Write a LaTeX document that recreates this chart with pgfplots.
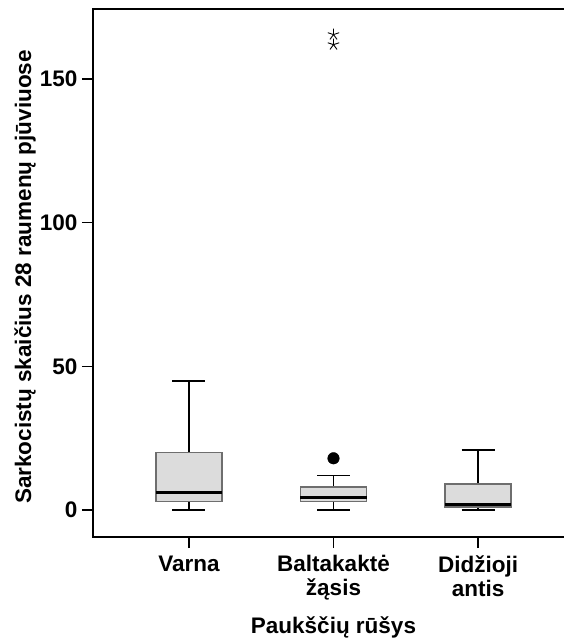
\documentclass[border=0pt]{standalone}
\usepackage{fontspec}
\setmainfont{Liberation Sans}
\usepackage{pgfplots}
\pgfplotsset{compat=1.18}
\usepgfplotslibrary{statistics}
\definecolor{boxfill}{HTML}{DCDCDC}
\definecolor{boxedge}{HTML}{6E6E6E}
\newcommand{\chartfont}{\fontsize{22.5bp}{24bp}\selectfont\bfseries}
\begin{document}
\begin{tikzpicture}[font=\chartfont]
\begin{axis}[name=ax, scale only axis, width=481bp, height=528bp,
  xmin=0.336, xmax=3.664, ymin=-9.4, ymax=174.4,
  xtick={1,2,3},
  xticklabels={Varna,{Baltakaktė\\žąsis},{Didžioji\\antis}},
  xticklabel style={align=center, anchor=north, yshift=-4bp, font=\chartfont},
  ytick={0,50,100,150},
  yticklabels={0,50,100,150},
  yticklabel style={font=\chartfont, xshift=-1bp},
  tick align=outside, tick pos=left, major tick length=11bp,
  tick style={black, line width=1.5bp},
  axis line style={black, line width=1.5bp},
  xlabel={Paukščių rūšys},
  ylabel={Sarkocistų skaičius 28 raumenų pjūviuose},
  xlabel style={at={([yshift=-96bp]axis description cs:0.5,0)}, anchor=base, font=\chartfont},
  ylabel style={at={([xshift=-68bp,yshift=-4bp]axis description cs:0,0.5)}, anchor=center, font=\chartfont},
  boxplot/draw direction=y,
  boxplot/every box/.style={fill=boxfill, draw=boxedge, line width=1.3bp},
  boxplot/every whisker/.style={black, line width=1.8bp},
  boxplot/every median/.style={black, line width=3bp},
]
\addplot[boxplot prepared={lower whisker=0, lower quartile=3, median=6,
  upper quartile=20, upper whisker=45, draw position=1,
  box extend=0.457, whisker extend=0.228}] coordinates {};
\addplot[boxplot prepared={lower whisker=0, lower quartile=3, median=4.5,
  upper quartile=8, upper whisker=12, draw position=2,
  box extend=0.457, whisker extend=0.228}] coordinates {};
\addplot[boxplot prepared={lower whisker=0, lower quartile=1, median=2,
  upper quartile=9, upper whisker=21, draw position=3,
  box extend=0.457, whisker extend=0.228}] coordinates {};
\addplot[only marks, mark=*, mark size=5.8bp, black] coordinates {(2,18)};
\addplot[only marks, mark=star, mark size=6bp, black, line width=0.9bp]
  coordinates {(2,162) (2,165.5)};
\end{axis}
\pgfresetboundingbox
\path ([xshift=-93bp,yshift=-106bp]ax.south west) rectangle ([xshift=-10bp,yshift=9bp]ax.north east);
\end{tikzpicture}
\end{document}
